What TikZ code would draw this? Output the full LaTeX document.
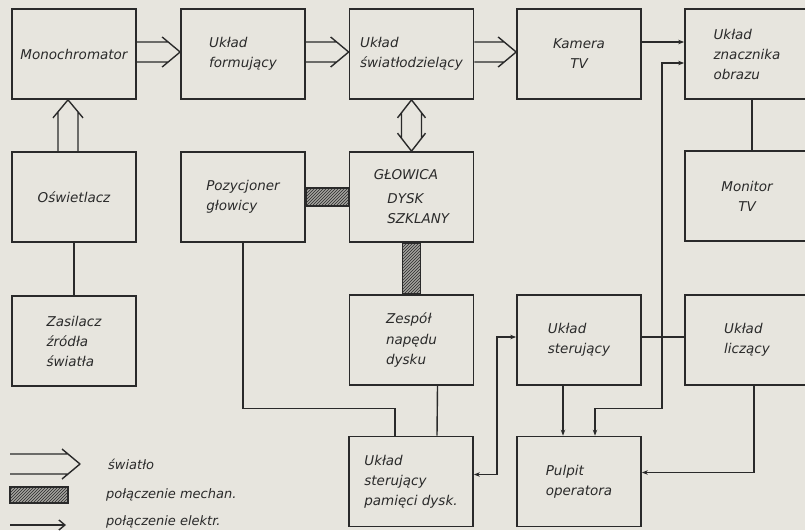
\documentclass[tikz,border=0pt]{standalone}
\usepackage{fontspec}
\setmainfont{DejaVu Sans}
\usetikzlibrary{calc,arrows.meta,patterns}

\definecolor{paper}{HTML}{E7E5DE}
\definecolor{ink}{HTML}{2A2A2A}
\definecolor{barfill}{HTML}{A3A29E}

\begin{document}
\begin{tikzpicture}[
    x=1pt, y=-1pt,
    box/.style={draw=ink, line width=1.7pt, minimum width=124pt, minimum height=90pt,
        inner sep=0pt, align=left, text=ink, font=\itshape\fontsize{13.5}{20}\selectfont},
    legend_label/.style={anchor=west, inner sep=0pt, text=ink, font=\itshape\fontsize{13}{15}\selectfont},
    wire/.style={draw=ink, line width=1.4pt},
    elec/.style={wire, -{Stealth[length=6pt,width=4.5pt]}},
    elecboth/.style={wire, {Stealth[length=6pt,width=4.5pt]}-{Stealth[length=6pt,width=4.5pt]}},
    mech/.style={draw=ink, line width=1.4pt, fill=barfill, postaction={pattern=north east lines, pattern color=ink}},
    % light path: two parallel lines and an open head
    lite/.style={draw=ink, line width=1.4pt, line join=round, to path={
        let \p1=(\tikztostart), \p2=(\tikztotarget), \n1={atan2(\y2-\y1,\x2-\x1)} in
        ($(\p1)+({\n1+90}:10pt)$) -- ($(\p2)+({\n1+90}:10pt)+({\n1+180}:12pt)$)
        ($(\p1)+({\n1-90}:10pt)$) -- ($(\p2)+({\n1-90}:10pt)+({\n1+180}:12pt)$)
        ($(\p2)+({\n1+90}:15pt)+({\n1+180}:18pt)$) -- (\p2) -- ($(\p2)+({\n1-90}:15pt)+({\n1+180}:18pt)$)
    }},
    litetwo/.style={draw=ink, line width=1.4pt, line join=round, to path={
        let \p1=(\tikztostart), \p2=(\tikztotarget), \n1={atan2(\y2-\y1,\x2-\x1)} in
        ($(\p1)+({\n1+90}:10pt)+(\n1:12pt)$) -- ($(\p2)+({\n1+90}:10pt)+({\n1+180}:12pt)$)
        ($(\p1)+({\n1-90}:10pt)+(\n1:12pt)$) -- ($(\p2)+({\n1-90}:10pt)+({\n1+180}:12pt)$)
        ($(\p1)+({\n1+90}:14pt)+(\n1:18pt)$) -- (\p1) -- ($(\p1)+({\n1-90}:14pt)+(\n1:18pt)$)
        ($(\p2)+({\n1+90}:14pt)+({\n1+180}:18pt)$) -- (\p2) -- ($(\p2)+({\n1-90}:14pt)+({\n1+180}:18pt)$)
    }}
]

    \fill[paper] (0,0) rectangle (805,530);
    \useasboundingbox (0,0) rectangle (805,530);

    % --- ROW 1 ---
    \node[box, align=center] (mono) at (74,54) {Monochromator};
    \node[box] (form) at (243,54) {Układ\\formujący};
    \node[box] (split) at (411.5,54) {Układ\\światłodzielący};
    \node[box, align=center] (cam) at (579,54) {Kamera\\TV};
    \node[box] (mark) at (747,54) {Układ\\znacznika\\obrazu};

    % --- ROW 2 ---
    \node[box] (lamp) at (74,197) {Oświetlacz};
    \node[box] (posit) at (243,197) {Pozycjoner\\głowicy};
    \node[box] (head) at (411.5,197) {GŁOWICA\\[4pt]\hspace*{1em}DYSK\\\hspace*{1em}SZKLANY};
    \node[box, align=center] (mon) at (747,196) {Monitor\\TV};

    % --- ROW 3 ---
    \node[box] (psu) at (74,341) {Zasilacz\\źródła\\światła};
    \node[box] (drive) at (411.5,340) {Zespół\\napędu\\dysku};
    \node[box] (ctrl) at (579,340) {Układ\\sterujący};
    \node[box] (count) at (747,340) {Układ\\liczący};

    % --- ROW 4 ---
    \node[box] (memctl) at (411,481.5) {Układ\\sterujący\\pamięci dysk.};
    \node[box] (desk) at (579,481.5) {Pulpit\\operatora};

    % --- LIGHT ---
    \draw[lite] ([yshift=2pt]mono.east) to ([yshift=2pt]form.west);
    \draw[lite] ([yshift=2pt]form.east) to ([yshift=2pt]split.west);
    \draw[lite] ([yshift=2pt]split.east) to ([yshift=2pt]cam.west);
    \draw[lite] ([xshift=-6pt]lamp.north) to ([xshift=-6pt]mono.south);
    \draw[litetwo] (split.south) to (head.north);

    % --- MECHANICAL ---
    \draw[mech] ([yshift=9pt]posit.east) rectangle ([yshift=-9pt]head.west);
    \draw[mech] ([xshift=-9pt]head.south) rectangle ([xshift=9pt]drive.north);

    % --- ELECTRICAL ---
    \draw[elec] ([yshift=12pt]cam.east) -- ([yshift=12pt]mark.west);
    \draw[wire] (lamp.south) -- (psu.north);
    \draw[wire] ([xshift=5pt]mark.south) -- ([xshift=5pt]mon.north);
    \draw[wire] (posit.south) |- ([xshift=-16pt,yshift=27pt]memctl.north) -- ([xshift=-16pt]memctl.north);
    \draw[wire] ([xshift=26pt]drive.south) -- ([xshift=26pt]memctl.north);
    \draw[elecboth] ([yshift=7pt]memctl.east) -- ++(23,0) |- ([yshift=3pt]ctrl.west);
    \draw[wire] ([yshift=3pt]ctrl.east) -- ([yshift=3pt]count.west);
    \coordinate (tap) at (662,337);
    \draw[elec] (tap) |- ([yshift=-9pt]mark.west);
    \draw[elec] (tap) |- ([xshift=16pt,yshift=27pt]desk.north) -- ([xshift=16pt]desk.north);
    \draw[elec] ([xshift=-16pt]ctrl.south) -- ([xshift=-16pt]desk.north);
    \draw[elec] ([xshift=7pt]count.south) |- ([yshift=9pt]desk.east);

    % --- LEGEND ---
    \coordinate (litea) at (10,464);
    \coordinate (liteb) at (80,464);
    \draw[lite] (litea) to (liteb);
    \node[legend_label] (litetxt) at (108,464) {światło};
    \coordinate (mecha) at (10,487);
    \coordinate (mechb) at (68,503);
    \draw[mech] (mecha) rectangle (mechb);
    \node[legend_label] (mechtxt) at (106,495) {połączenie mechan.};
    \coordinate (eleca) at (10,525);
    \coordinate (elecb) at (66,525);
    \draw[wire, -{Straight Barb[length=6pt,width=10pt]}] (eleca) -- (elecb);
    \node[legend_label] (electxt) at (106,522) {połączenie elektr.};

\end{tikzpicture}
\end{document}
